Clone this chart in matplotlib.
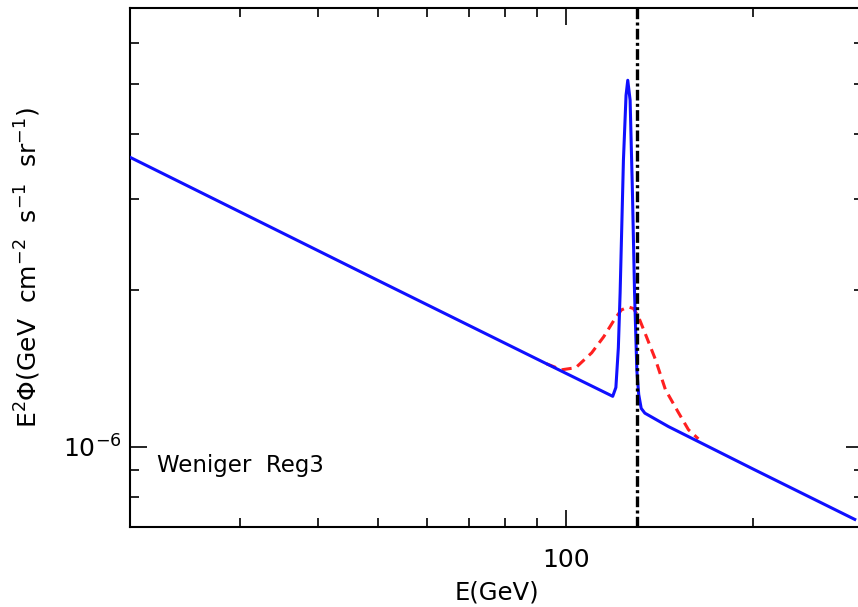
#!/usr/bin/env python3

from matplotlib import pyplot as plt
from matplotlib.ticker import FixedLocator, NullFormatter, FixedFormatter

plt.rcParams['font.family'] = ['DejaVu Sans']
plt.rcParams['mathtext.default'] = 'regular'

# blue: model spectrum with the sharp line (E in GeV, E^2 Phi in GeV cm^-2 s^-1 sr^-1)
e_blue = [20.0, 50.0, 93.2, 119.0, 120.4, 121.5, 122.3, 123.8, 125.0, 125.8, 126.9,
          128.0, 129.0, 130.1, 131.0, 132.2, 134.0, 146.2, 200.0, 291.0]
f_blue = [3.61e-6, 2.09e-6, 1.444e-6, 1.250e-6, 1.30e-6, 1.55e-6, 1.978e-6, 3.56e-6,
          4.75e-6, 5.08e-6, 4.65e-6, 3.08e-6, 1.978e-6, 1.40e-6, 1.26e-6, 1.185e-6,
          1.160e-6, 1.093e-6, 0.905e-6, 0.724e-6]

# red dashed: the same spectrum smeared by the energy resolution
e_red = [93.2, 98.5, 103.8, 110.1, 115.1, 120.2, 122.9, 126.1, 128.5, 130.9, 134.8,
         139.4, 144.6, 151.7, 157.4, 163.3]
f_red = [1.444e-6, 1.406e-6, 1.419e-6, 1.516e-6, 1.628e-6, 1.770e-6, 1.834e-6,
         1.858e-6, 1.845e-6, 1.778e-6, 1.628e-6, 1.470e-6, 1.287e-6, 1.163e-6,
         1.078e-6, 1.035e-6]

E_LINE = 130.  # GeV

x_major = [100]
x_minor = [20, 30, 40, 50, 60, 70, 80, 90, 200, 300]
y_major = [1e-6]
y_minor = [0.7e-6, 0.8e-6, 0.9e-6, 2e-6, 3e-6, 4e-6, 5e-6, 6e-6, 7e-6]


fig = plt.figure(figsize=(8.58, 6.07), dpi=100)
ax = fig.add_axes([130 / 858, 80 / 607, 733 / 858, 519 / 607])

ax.plot(e_blue, f_blue, color='#1010ff', linewidth=2.2, zorder=3,
        solid_joinstyle='round')
ax.plot(e_red, f_red, color='#ff2020', linewidth=2.2, linestyle=(0, (3.3, 2.0)), zorder=2)
ax.axvline(E_LINE, color='black', linewidth=2.4, linestyle=(0, (3.2, 1.0, 0.9, 1.0)),
           zorder=4)

ax.set_xscale('log')
ax.set_yscale('log')
ax.set_xlim(20, 300)
ax.set_ylim(0.7e-6, 7e-6)

ax.xaxis.set_major_locator(FixedLocator(x_major))
ax.xaxis.set_major_formatter(FixedFormatter(['100']))
ax.xaxis.set_minor_locator(FixedLocator(x_minor))
ax.xaxis.set_minor_formatter(NullFormatter())
ax.yaxis.set_major_locator(FixedLocator(y_major))
ax.yaxis.set_major_formatter(FixedFormatter([r'$10^{-6}$']))
ax.yaxis.set_minor_locator(FixedLocator(y_minor))
ax.yaxis.set_minor_formatter(NullFormatter())

ax.tick_params(which='both', direction='in', top=True, right=True, width=1.2,
               labelsize=18, colors='black')
ax.tick_params(which='major', length=12)
ax.tick_params(axis='x', which='major', pad=15)
ax.tick_params(axis='y', which='major', pad=6)
ax.tick_params(which='minor', length=6.5)
for s in ax.spines.values():
    s.set_linewidth(1.5)

ax.set_xlabel('E(GeV)', fontsize=17.5, labelpad=6)
ax.set_ylabel(r'E$^2$Φ(GeV  cm$^{-2}$  s$^{-1}$  sr$^{-1}$)', fontsize=18, labelpad=14)

ax.text(0.037, 0.119, 'Weniger  Reg3', transform=ax.transAxes, fontsize=16.5,
        va='center', ha='left')

plt.savefig('out.png', dpi=100)
